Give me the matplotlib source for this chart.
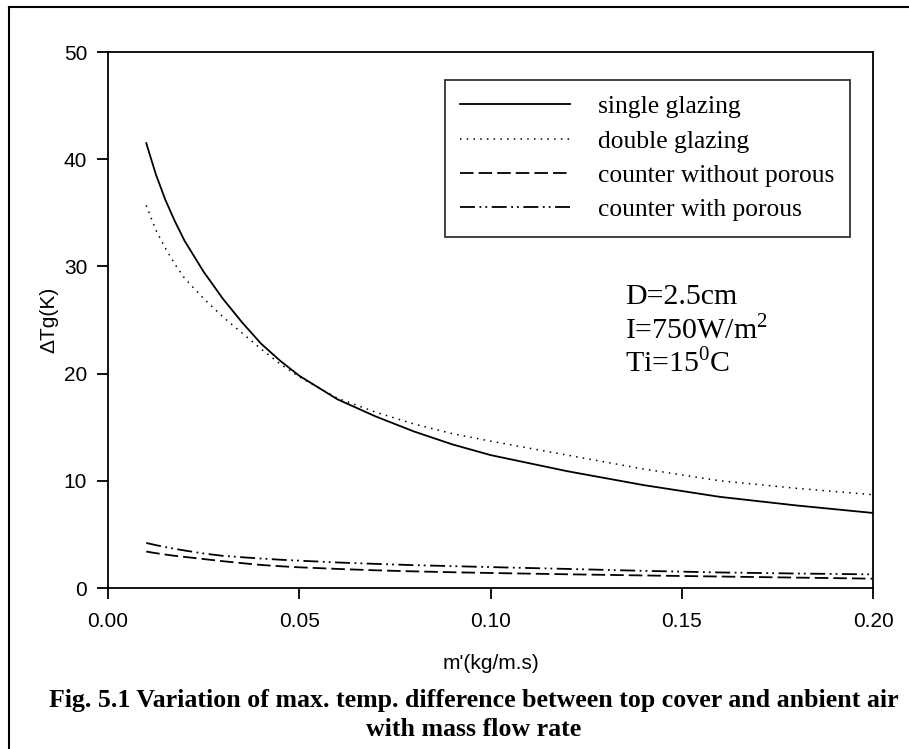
import matplotlib
matplotlib.use("Agg")
import matplotlib.pyplot as plt
from matplotlib.lines import Line2D

# ---- data ----
mass_flow = [0.01, 0.0125, 0.015, 0.0175, 0.02, 0.025, 0.03, 0.035, 0.04, 0.045,
             0.05, 0.06, 0.07, 0.08, 0.09, 0.10, 0.12, 0.14, 0.16, 0.18, 0.20]
single_glazing = [41.5, 38.6, 36.2, 34.2, 32.4, 29.5, 27.0, 24.8, 22.8, 21.2,
                  19.8, 17.6, 16.0, 14.6, 13.4, 12.4, 10.9, 9.6, 8.5, 7.7, 7.0]
double_glazing = [35.7, 33.4, 31.7, 30.2, 28.9, 27.0, 25.3, 23.8, 22.3, 20.9,
                  19.7, 17.7, 16.4, 15.3, 14.4, 13.7, 12.4, 11.1, 10.0, 9.3, 8.7]
counter_without_porous = [3.40, 3.25, 3.12, 3.00, 2.90, 2.70, 2.50, 2.32, 2.15, 2.03,
                          1.93, 1.78, 1.65, 1.55, 1.47, 1.40, 1.28, 1.17, 1.07, 0.97, 0.87]
counter_with_porous = [4.20, 4.00, 3.82, 3.65, 3.50, 3.22, 3.00, 2.87, 2.75, 2.64,
                       2.55, 2.38, 2.25, 2.13, 2.04, 1.95, 1.78, 1.60, 1.45, 1.35, 1.27]

series_labels = ["single glazing", "double glazing",
                 "counter without porous", "counter with porous"]
x_ticks = [0.00, 0.05, 0.10, 0.15, 0.20]
x_tick_labels = ["0.00", "0.05", "0.10", "0.15", "0.20"]
y_ticks = [0, 10, 20, 30, 40, 50]
x_label = "m'(kg/m.s)"
y_label = "\u0394Tg(K)"
caption_1 = "Fig. 5.1 Variation of max. temp. difference between top cover and anbient air"
caption_2 = "with mass flow rate"

W, H = 909, 749
fig = plt.figure(figsize=(W / 100, H / 100), dpi=100)
fig.patch.set_facecolor("white")

# outer frame (top and left edges visible)
fig.add_artist(Line2D([9 / W, 9 / W], [0, 1 - 7 / H], transform=fig.transFigure,
                      color="black", lw=1.5))
fig.add_artist(Line2D([9 / W, 1], [1 - 7 / H, 1 - 7 / H], transform=fig.transFigure,
                      color="black", lw=1.5))

left, right, top, bottom = 108, 873, 52, 588
ax = fig.add_axes([left / W, 1 - bottom / H, (right - left) / W, (bottom - top) / H])

ax.plot(mass_flow, single_glazing, color="black", lw=1.3, ls="-", label=series_labels[0])
ax.plot(mass_flow, double_glazing, color="black", lw=1.1, ls=(0, (1, 3.4)), label=series_labels[1])
ax.plot(mass_flow, counter_without_porous, color="black", lw=1.3, ls=(0, (7.5, 2.8)),
        label=series_labels[2])
ax.plot(mass_flow, counter_with_porous, color="black", lw=1.3,
        ls=(0, (8.3, 2.5, 1.0, 2.25, 1.0, 2.5)), label=series_labels[3])

ax.set_xlim(0, 0.2)
ax.set_ylim(0, 50)
ax.set_xticks(x_ticks)
ax.set_xticklabels(x_tick_labels)
ax.set_yticks(y_ticks)
for sp in ax.spines.values():
    sp.set_linewidth(1.3)
ax.tick_params(direction="out", length=8, width=1.3, labelsize=15,
               top=False, right=False)
ax.tick_params(axis="y", pad=7)
ax.tick_params(axis="x", pad=9)
for t in ax.get_xticklabels() + ax.get_yticklabels():
    t.set_fontfamily("Liberation Sans")

ax.set_xlabel(x_label, fontsize=15, family="Liberation Sans", labelpad=17)
ax.set_ylabel(y_label, fontsize=15, family="Liberation Sans", labelpad=4)

leg = ax.legend(loc="upper right",
                bbox_to_anchor=((850 - left) / (right - left), (bottom - 80) / (bottom - top)),
                borderaxespad=0, frameon=True, fancybox=False, edgecolor="black",
                prop={"family": "Liberation Serif", "size": 18.4},
                handlelength=4.3, handletextpad=1.1, labelspacing=0.45,
                borderpad=0.6)
leg.get_frame().set_linewidth(1.3)

serif = "Liberation Serif"
ax.text((625 - left) / (right - left), (bottom - 297) / (bottom - top), "D=2.5cm",
        transform=ax.transAxes, fontsize=21.5, family=serif, va="center", ha="left")
ax.text((625 - left) / (right - left), (bottom - 330) / (bottom - top),
        r"I=750W/m$^{\mathregular{2}}$",
        transform=ax.transAxes, fontsize=21.5, family=serif, va="center", ha="left")
ax.text((625 - left) / (right - left), (bottom - 363) / (bottom - top),
        r"Ti=15$^{\mathregular{0}}$C",
        transform=ax.transAxes, fontsize=21.5, family=serif, va="center", ha="left")

fig.text(474 / W, 1 - 701 / H, caption_1, ha="center", va="center",
         fontsize=18.6, fontweight="bold", family=serif)
fig.text(474 / W, 1 - 729 / H, caption_2, ha="center", va="center",
         fontsize=18.6, fontweight="bold", family=serif)

fig.savefig("out.png", dpi=100, facecolor="white")
